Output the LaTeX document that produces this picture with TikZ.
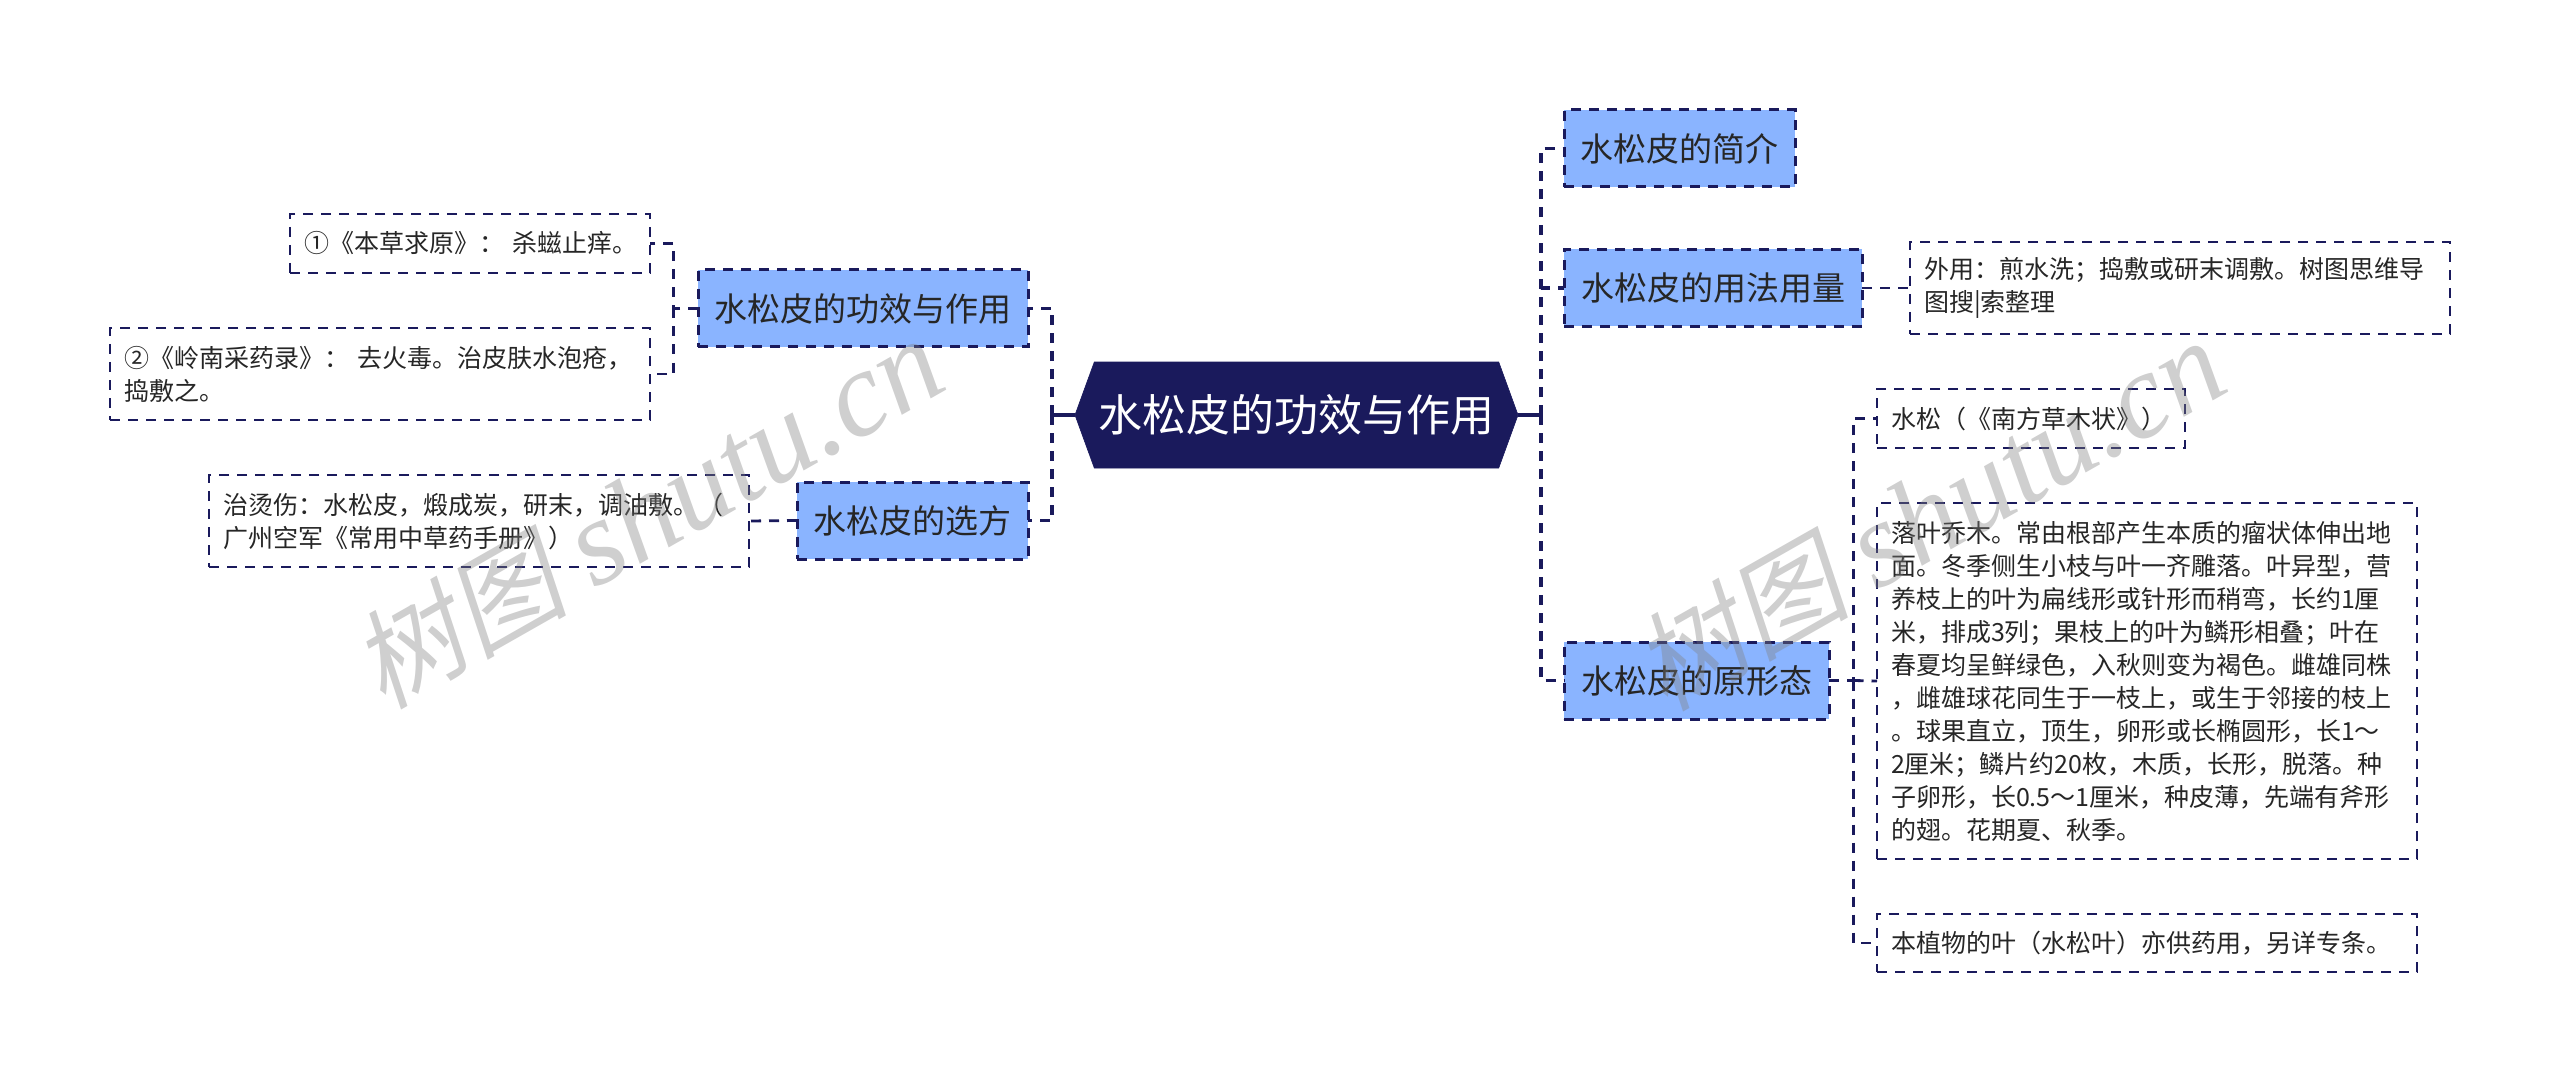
\documentclass[tikz,border=0pt]{standalone}
\usepackage{fontspec}
\setmainfont{Noto Sans CJK SC}
\newfontfamily\markcjk[FakeSlant=0.2]{Noto Sans CJK SC}
\newfontfamily\marklatin{Liberation Serif}
\usetikzlibrary{shapes,arrows}
\definecolor{navy}{HTML}{1A1A5C}
\definecolor{midblue}{HTML}{8AB4FF}
\begin{document}
\begin{tikzpicture}[x=1pt,y=-1pt,semithick]
\tikzstyle{rootbox}=[signal,signal to=east and west,signal pointer angle=140,draw=navy,fill=navy,text=white,
  minimum width=443pt,minimum height=106pt,inner sep=0pt,outer sep=0pt,font=\fontsize{44}{50}\selectfont]
\tikzstyle{midbox}=[rectangle,draw=navy,fill=midblue,dashed,dash pattern=on 10pt off 8pt,line width=3pt,
  text=black!85,minimum height=77pt,outer sep=0pt,font=\fontsize{33}{40}\selectfont]
\tikzstyle{leafbox}=[rectangle,draw=navy,dash pattern=on 10pt off 8pt,line width=2.8pt,text=black!85,align=left,
  inner xsep=14pt,inner ysep=0pt,outer sep=0pt,font=\fontsize{25}{33}\selectfont]
\tikzstyle{rootline}=[draw=navy,line width=4pt]
\tikzstyle{midline}=[draw=navy,line width=3.5pt,dash pattern=on 10pt off 8pt]
\tikzstyle{leafline}=[draw=navy,line width=2.8pt,dash pattern=on 10pt off 8pt]
\tikzstyle{watermark}=[text=black!50,text opacity=.38,rotate=29.6,font=\fontsize{122}{130}\selectfont]
\useasboundingbox (0,0) rectangle (2560,1083);
\node[rootbox] (root) at (1296.5,415) {水松皮的功效与作用};
% left side
\node[midbox,minimum width=330pt] (effect) at (863,308.5) {水松皮的功效与作用};
\node[midbox,minimum width=231pt] (recipe) at (912.5,520.5) {水松皮的选方};
\node[leafbox,minimum width=360pt,minimum height=59pt,text width=332pt] (source1) at (470,243.5) {\mbox{①《本草求原》： 杀螆止痒。}};
\node[leafbox,text width=512pt,minimum height=92pt] (source2) at (380,374) {②《岭南采药录》： 去火毒。治皮肤水泡疮，\\捣敷之。};
\node[leafbox,text width=512pt,minimum height=92pt] (burn) at (479,521) {治烫伤：水松皮，煅成炭，研末，调油敷。（\\广州空军《常用中草药手册》）};
% right side
\node[midbox,minimum width=231pt] (intro) at (1679.5,148.5) {水松皮的简介};
\node[midbox,minimum width=298pt] (usage) at (1713,288) {水松皮的用法用量};
\node[midbox,minimum width=265pt] (form) at (1696.5,680.5) {水松皮的原形态};
\node[leafbox,text width=512pt,minimum height=92pt] (external) at (2180,288) {外用：煎水洗；捣敷或研末调敷。树图思维导\\图搜|索整理};
\node[leafbox,text width=280pt,minimum height=59pt] (name) at (2031,418.5) {水松（《南方草木状》）};
\node[leafbox,text width=512pt,minimum height=356pt] (detail) at (2147,681) {落叶乔木。常由根部产生本质的瘤状体伸出地\\面。冬季侧生小枝与叶一齐雕落。叶异型，营\\养枝上的叶为扁线形或针形而稍弯，长约1厘\\米，排成3列；果枝上的叶为鳞形相叠；叶在\\春夏均呈鲜绿色，入秋则变为褐色。雌雄同株\\，雌雄球花同生于一枝上，或生于邻接的枝上\\。球果直立，顶生，卵形或长椭圆形，长1～\\2厘米；鳞片约20枚，木质，长形，脱落。种\\子卵形，长0.5～1厘米，种皮薄，先端有斧形\\的翅。花期夏、秋季。};
\node[leafbox,text width=512pt,minimum height=58pt] (leafuse) at (2147,943) {本植物的叶（水松叶）亦供药用，另详专条。};
% trunks
\coordinate (ltrunk) at (1052,415);
\coordinate (rtrunk) at (1541,415);
\coordinate (efftrunk) at (673.5,308.5);
\coordinate (formtrunk) at (1853.5,680.5);
\draw[rootline] (root.west) -- (ltrunk);
\draw[rootline] (root.east) -- (rtrunk);
\path[midline] (ltrunk) |- (effect.east);
\path[midline] (ltrunk) |- (recipe.east);
\path[midline] (rtrunk) |- (intro.west);
\path[midline] (rtrunk) |- (usage.west);
\path[midline] (rtrunk) |- (form.west);
\path[leafline] (effect.west) -- (efftrunk) |- (source1.east);
\path[leafline] (efftrunk) |- (source2.east);
\path[leafline] (recipe.west) -- (burn.east);
\path[leafline] (usage.east) -- (external.west);
\path[leafline] (form.east) -- (formtrunk) |- (name.west);
\path[leafline] (formtrunk) -- (detail.west);
\path[leafline] (formtrunk) |- (leafuse.west);
% watermarks
\node[watermark] (mark1) at (647,513) {{\markcjk\fontsize{108}{130}\selectfont 树图} {\marklatin\itshape shutu.cn}};
\node[watermark] (mark2) at (1929,515) {{\markcjk\fontsize{108}{130}\selectfont 树图} {\marklatin\itshape shutu.cn}};
\end{tikzpicture}
\end{document}
